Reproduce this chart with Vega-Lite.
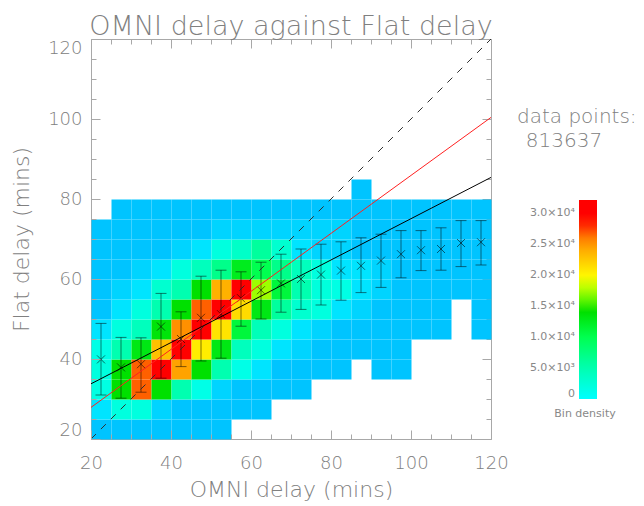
{
  "$schema": "https://vega.github.io/schema/vega-lite/v6.json",
  "width": 400,
  "height": 400,
  "autosize": "none",
  "padding": {"left": 91, "top": 39, "right": 153, "bottom": 67},
  "background": "white",
  "config": {
    "font": "DejaVu Sans",
    "view": {"stroke": "#a8a8a8", "strokeWidth": 1}
  },
  "title": {
    "text": "OMNI delay against Flat delay",
    "font": "DejaVu Sans",
    "fontSize": 27,
    "fontWeight": 200,
    "color": "#808080",
    "anchor": "middle",
    "baseline": "alphabetic",
    "offset": -25
  },
  "datasets": {
    "bins": [
      {"omni":20,"flat":20,"n":300},{"omni":25,"flat":20,"n":300},{"omni":30,"flat":20,"n":300},{"omni":35,"flat":20,"n":300},{"omni":40,"flat":20,"n":300},{"omni":45,"flat":20,"n":300},{"omni":50,"flat":20,"n":300},
      {"omni":20,"flat":25,"n":1200},{"omni":25,"flat":25,"n":2000},{"omni":30,"flat":25,"n":2000},{"omni":35,"flat":25,"n":800},{"omni":40,"flat":25,"n":300},{"omni":45,"flat":25,"n":300},{"omni":50,"flat":25,"n":300},{"omni":55,"flat":25,"n":300},{"omni":60,"flat":25,"n":300},
      {"omni":20,"flat":30,"n":1800},{"omni":25,"flat":30,"n":14000},{"omni":30,"flat":30,"n":26700},{"omni":35,"flat":30,"n":14000},{"omni":40,"flat":30,"n":5000},{"omni":45,"flat":30,"n":1500},{"omni":50,"flat":30,"n":800},{"omni":55,"flat":30,"n":300},{"omni":60,"flat":30,"n":300},{"omni":65,"flat":30,"n":300},{"omni":70,"flat":30,"n":300},
      {"omni":20,"flat":35,"n":2000},{"omni":25,"flat":35,"n":14000},{"omni":30,"flat":35,"n":26700},{"omni":35,"flat":35,"n":30500},{"omni":40,"flat":35,"n":24500},{"omni":45,"flat":35,"n":14000},{"omni":50,"flat":35,"n":5000},{"omni":55,"flat":35,"n":1500},{"omni":60,"flat":35,"n":1000},{"omni":65,"flat":35,"n":400},{"omni":70,"flat":35,"n":300},{"omni":75,"flat":35,"n":300},{"omni":80,"flat":35,"n":300},{"omni":90,"flat":35,"n":300},{"omni":95,"flat":35,"n":300},
      {"omni":20,"flat":40,"n":1600},{"omni":25,"flat":40,"n":5000},{"omni":30,"flat":40,"n":13000},{"omni":35,"flat":40,"n":23000},{"omni":40,"flat":40,"n":31800},{"omni":45,"flat":40,"n":20500},{"omni":50,"flat":40,"n":13000},{"omni":55,"flat":40,"n":4200},{"omni":60,"flat":40,"n":2000},{"omni":65,"flat":40,"n":1200},{"omni":70,"flat":40,"n":700},{"omni":75,"flat":40,"n":300},{"omni":80,"flat":40,"n":300},{"omni":85,"flat":40,"n":300},{"omni":90,"flat":40,"n":300},{"omni":95,"flat":40,"n":300},
      {"omni":20,"flat":45,"n":1000},{"omni":25,"flat":45,"n":2000},{"omni":30,"flat":45,"n":4200},{"omni":35,"flat":45,"n":13500},{"omni":40,"flat":45,"n":25500},{"omni":45,"flat":45,"n":32150},{"omni":50,"flat":45,"n":21000},{"omni":55,"flat":45,"n":11000},{"omni":60,"flat":45,"n":4500},{"omni":65,"flat":45,"n":2000},{"omni":70,"flat":45,"n":1200},{"omni":75,"flat":45,"n":800},{"omni":80,"flat":45,"n":300},{"omni":85,"flat":45,"n":300},{"omni":90,"flat":45,"n":300},{"omni":95,"flat":45,"n":300},{"omni":100,"flat":45,"n":300},{"omni":105,"flat":45,"n":300},{"omni":115,"flat":45,"n":300},
      {"omni":20,"flat":50,"n":400},{"omni":25,"flat":50,"n":1000},{"omni":30,"flat":50,"n":2000},{"omni":35,"flat":50,"n":5000},{"omni":40,"flat":50,"n":14000},{"omni":45,"flat":50,"n":26700},{"omni":50,"flat":50,"n":31000},{"omni":55,"flat":50,"n":21500},{"omni":60,"flat":50,"n":13000},{"omni":65,"flat":50,"n":6000},{"omni":70,"flat":50,"n":3000},{"omni":75,"flat":50,"n":2000},{"omni":80,"flat":50,"n":1200},{"omni":85,"flat":50,"n":800},{"omni":90,"flat":50,"n":300},{"omni":95,"flat":50,"n":300},{"omni":100,"flat":50,"n":300},{"omni":105,"flat":50,"n":300},{"omni":115,"flat":50,"n":300},
      {"omni":20,"flat":55,"n":300},{"omni":25,"flat":55,"n":600},{"omni":30,"flat":55,"n":1200},{"omni":35,"flat":55,"n":3000},{"omni":40,"flat":55,"n":5000},{"omni":45,"flat":55,"n":14000},{"omni":50,"flat":55,"n":23800},{"omni":55,"flat":55,"n":30500},{"omni":60,"flat":55,"n":17300},{"omni":65,"flat":55,"n":11000},{"omni":70,"flat":55,"n":5000},{"omni":75,"flat":55,"n":2200},{"omni":80,"flat":55,"n":1700},{"omni":85,"flat":55,"n":1200},{"omni":90,"flat":55,"n":900},{"omni":95,"flat":55,"n":300},{"omni":100,"flat":55,"n":300},{"omni":105,"flat":55,"n":300},{"omni":110,"flat":55,"n":300},{"omni":115,"flat":55,"n":300},
      {"omni":20,"flat":60,"n":300},{"omni":25,"flat":60,"n":300},{"omni":30,"flat":60,"n":600},{"omni":35,"flat":60,"n":1200},{"omni":40,"flat":60,"n":2000},{"omni":45,"flat":60,"n":4200},{"omni":50,"flat":60,"n":7000},{"omni":55,"flat":60,"n":12500},{"omni":60,"flat":60,"n":10000},{"omni":65,"flat":60,"n":7000},{"omni":70,"flat":60,"n":4200},{"omni":75,"flat":60,"n":2000},{"omni":80,"flat":60,"n":1300},{"omni":85,"flat":60,"n":1000},{"omni":90,"flat":60,"n":700},{"omni":95,"flat":60,"n":300},{"omni":100,"flat":60,"n":300},{"omni":105,"flat":60,"n":300},{"omni":110,"flat":60,"n":300},{"omni":115,"flat":60,"n":300},
      {"omni":20,"flat":65,"n":300},{"omni":25,"flat":65,"n":300},{"omni":30,"flat":65,"n":300},{"omni":35,"flat":65,"n":400},{"omni":40,"flat":65,"n":900},{"omni":45,"flat":65,"n":1200},{"omni":50,"flat":65,"n":2000},{"omni":55,"flat":65,"n":3500},{"omni":60,"flat":65,"n":6000},{"omni":65,"flat":65,"n":3000},{"omni":70,"flat":65,"n":1300},{"omni":75,"flat":65,"n":900},{"omni":80,"flat":65,"n":700},{"omni":85,"flat":65,"n":400},{"omni":90,"flat":65,"n":300},{"omni":95,"flat":65,"n":300},{"omni":100,"flat":65,"n":300},{"omni":105,"flat":65,"n":300},{"omni":110,"flat":65,"n":300},{"omni":115,"flat":65,"n":300},
      {"omni":20,"flat":70,"n":300},{"omni":25,"flat":70,"n":300},{"omni":30,"flat":70,"n":300},{"omni":35,"flat":70,"n":300},{"omni":40,"flat":70,"n":300},{"omni":45,"flat":70,"n":400},{"omni":50,"flat":70,"n":600},{"omni":55,"flat":70,"n":800},{"omni":60,"flat":70,"n":800},{"omni":65,"flat":70,"n":800},{"omni":70,"flat":70,"n":800},{"omni":75,"flat":70,"n":700},{"omni":80,"flat":70,"n":500},{"omni":85,"flat":70,"n":300},{"omni":90,"flat":70,"n":300},{"omni":95,"flat":70,"n":300},{"omni":100,"flat":70,"n":300},{"omni":105,"flat":70,"n":300},{"omni":110,"flat":70,"n":300},{"omni":115,"flat":70,"n":300},
      {"omni":25,"flat":75,"n":300},{"omni":30,"flat":75,"n":300},{"omni":35,"flat":75,"n":300},{"omni":40,"flat":75,"n":300},{"omni":45,"flat":75,"n":300},{"omni":50,"flat":75,"n":300},{"omni":55,"flat":75,"n":300},{"omni":60,"flat":75,"n":300},{"omni":65,"flat":75,"n":300},{"omni":70,"flat":75,"n":300},{"omni":75,"flat":75,"n":300},{"omni":80,"flat":75,"n":300},{"omni":85,"flat":75,"n":300},{"omni":90,"flat":75,"n":300},{"omni":95,"flat":75,"n":300},{"omni":100,"flat":75,"n":300},{"omni":105,"flat":75,"n":300},{"omni":110,"flat":75,"n":300},{"omni":115,"flat":75,"n":300},
      {"omni":85,"flat":80,"n":300}
    ],
    "profile": [
      {"omni":22.5,"mean":39.9,"lo":31.0,"hi":48.9},
      {"omni":27.5,"mean":37.9,"lo":30.2,"hi":45.4},
      {"omni":32.5,"mean":38.7,"lo":31.7,"hi":45.3},
      {"omni":37.5,"mean":48.1,"lo":35.2,"hi":56.4},
      {"omni":42.5,"mean":45.0,"lo":38.1,"hi":51.8},
      {"omni":47.5,"mean":50.3,"lo":39.5,"hi":60.7},
      {"omni":52.5,"mean":51.2,"lo":40.2,"hi":62.2},
      {"omni":57.5,"mean":55.2,"lo":48.2,"hi":61.8},
      {"omni":62.5,"mean":57.2,"lo":50.0,"hi":64.2},
      {"omni":67.5,"mean":58.9,"lo":51.7,"hi":66.2},
      {"omni":72.5,"mean":60.0,"lo":52.4,"hi":67.5},
      {"omni":77.5,"mean":61.1,"lo":53.5,"hi":68.7},
      {"omni":82.5,"mean":62.1,"lo":54.7,"hi":69.3},
      {"omni":87.5,"mean":63.3,"lo":56.6,"hi":70.3},
      {"omni":92.5,"mean":64.6,"lo":57.9,"hi":71.2},
      {"omni":97.5,"mean":66.2,"lo":60.3,"hi":72.1},
      {"omni":102.5,"mean":67.2,"lo":62.1,"hi":72.1},
      {"omni":107.5,"mean":67.5,"lo":62.2,"hi":72.8},
      {"omni":112.5,"mean":69.0,"lo":63.1,"hi":74.6},
      {"omni":117.5,"mean":69.2,"lo":63.5,"hi":74.6}
    ],
    "fit": [{"omni":20,"flat":33.8},{"omni":120,"flat":85.4}],
    "trend": [{"omni":20,"flat":27.9},{"omni":120,"flat":100.4}],
    "unity": [{"omni":20,"flat":20},{"omni":120,"flat":120}],
    "summary": [{"points":813637}]
  },
  "resolve": {"axis": {"x": "independent", "y": "independent"}},
  "layer": [
    {
      "data": {"name": "bins"},
      "mark": {"type": "rect"},
      "encoding": {
        "x": {
          "field": "omni", "type": "quantitative",
          "bin": {"binned": true, "step": 5},
          "scale": {"domain": [20, 120], "nice": false, "zero": false},
          "axis": {
            "orient": "bottom",
            "values": [20,25,30,35,40,45,50,55,60,65,70,75,80,85,90,95,100,105,110,115,120],
            "labelExpr": "datum.value % 20 === 0 ? datum.label : ''",
            "domain": false, "grid": false,
            "tickColor": "#a8a8a8",
            "tickSize": {"condition": {"test": "datum.value % 20 === 0", "value": -9}, "value": -5},
            "labelFontSize": 18, "labelColor": "#808080", "labelFont": "DejaVu Sans", "labelFontWeight": 200,
            "labelPadding": 24, "labelFlush": false, "labelOverlap": false,
            "title": "OMNI delay (mins)", "titleFontSize": 22, "titleFontWeight": 200, "titleColor": "#808080", "titlePadding": 3
          }
        },
        "y": {
          "field": "flat", "type": "quantitative",
          "bin": {"binned": true, "step": 5},
          "scale": {"domain": [20, 120], "nice": false, "zero": false},
          "axis": {
            "orient": "left",
            "values": [20,25,30,35,40,45,50,55,60,65,70,75,80,85,90,95,100,105,110,115,120],
            "labelExpr": "datum.value % 20 === 0 ? datum.label : ''",
            "domain": false, "grid": false,
            "tickColor": "#a8a8a8",
            "tickSize": {"condition": {"test": "datum.value % 20 === 0", "value": -9}, "value": -5},
            "labelFontSize": 18, "labelColor": "#808080", "labelFont": "DejaVu Sans", "labelFontWeight": 200,
            "labelPadding": 18, "labelFlush": true, "labelOverlap": false,
            "title": "Flat delay (mins)", "titleFontSize": 22, "titleFontWeight": 200, "titleColor": "#808080", "titlePadding": 14
          }
        },
        "color": {
          "condition": [
            {"test": "datum.n < 500", "value": "#00c4ff"},
            {"test": "datum.n < 1000", "value": "#00d4ff"},
            {"test": "datum.n < 1500", "value": "#00e4ff"}
          ],
          "field": "n", "type": "quantitative",
          "scale": {
            "domain": [0, 5000, 10000, 14000, 17000, 19500, 23000, 25500, 27500, 29000, 32150],
            "range": ["#00ffff", "#00ffb0", "#00ff50", "#00e000", "#90ff00", "#ffff00", "#ffc000", "#ff9000", "#ff4000", "#ff0000", "#ff0000"],
            "interpolate": "rgb"
          },
          "legend": {
            "orient": "none", "legendX": 463, "legendY": 161,
            "direction": "vertical",
            "gradientLength": 199, "gradientThickness": 18, "gradientStrokeWidth": 0,
            "values": [0, 5000, 10000, 15000, 20000, 25000, 30000],
            "labelExpr": "datum.value === 0 ? '0' : datum.value < 10000 ? format(datum.value / 1000, '.1f') + '×10³' : format(datum.value / 10000, '.1f') + '×10⁴'",
            "labelOverlap": false,
            "labelFontSize": 11, "labelColor": "#888888", "labelFont": "DejaVu Sans",
            "title": "Bin density", "titleOrient": "bottom", "titleAnchor": "start", "titleAlign": "center",
            "titleFontSize": 11, "titleFontWeight": "normal", "titleColor": "#888888", "titleFont": "DejaVu Sans", "titlePadding": 9,
            "encode": {
              "labels": {"update": {"align": {"value": "right"}, "x": {"value": -4}}},
              "title": {"update": {"dx": {"value": 6}}}
            }
          }
        }
      }
    },
    {
      "data": {"name": "profile"},
      "mark": {"type": "errorbar", "ticks": true, "size": 11, "thickness": 1, "color": "#000000", "opacity": 0.5},
      "encoding": {
        "x": {"field": "omni", "type": "quantitative", "axis": null},
        "y": {"field": "lo", "type": "quantitative", "axis": null},
        "y2": {"field": "hi"}
      }
    },
    {
      "data": {"name": "profile"},
      "mark": {"type": "point", "shape": "M-1,-1L1,1M-1,1L1,-1", "size": 64, "filled": false, "stroke": "#000000", "strokeWidth": 1, "opacity": 0.55},
      "encoding": {
        "x": {"field": "omni", "type": "quantitative", "axis": null},
        "y": {"field": "mean", "type": "quantitative", "axis": null}
      }
    },
    {
      "data": {"name": "unity"},
      "mark": {"type": "line", "stroke": "#303030", "strokeWidth": 1, "strokeDash": [7, 7]},
      "encoding": {
        "x": {
          "field": "omni", "type": "quantitative",
          "axis": {
            "orient": "top",
            "values": [20,25,30,35,40,45,50,55,60,65,70,75,80,85,90,95,100,105,110,115,120],
            "labels": false, "domain": false, "grid": false, "title": null,
            "tickColor": "#a8a8a8",
            "tickSize": {"condition": {"test": "datum.value % 20 === 0", "value": -9}, "value": -5}
          }
        },
        "y": {
          "field": "flat", "type": "quantitative",
          "axis": {
            "orient": "right",
            "values": [20,25,30,35,40,45,50,55,60,65,70,75,80,85,90,95,100,105,110,115,120],
            "labels": false, "domain": false, "grid": false, "title": null,
            "tickColor": "#a8a8a8",
            "tickSize": {"condition": {"test": "datum.value % 20 === 0", "value": -9}, "value": -5}
          }
        }
      }
    },
    {
      "data": {"name": "trend"},
      "mark": {"type": "line", "stroke": "#ff2020", "strokeWidth": 1},
      "encoding": {
        "x": {"field": "omni", "type": "quantitative", "axis": null},
        "y": {"field": "flat", "type": "quantitative", "axis": null}
      }
    },
    {
      "data": {"name": "fit"},
      "mark": {"type": "line", "stroke": "#000000", "strokeWidth": 1},
      "encoding": {
        "x": {"field": "omni", "type": "quantitative", "axis": null},
        "y": {"field": "flat", "type": "quantitative", "axis": null}
      }
    },
    {
      "data": {"name": "summary"},
      "mark": {"type": "text", "text": "data points:", "align": "left", "baseline": "alphabetic", "fontSize": 20, "fontWeight": 200, "color": "#808080"},
      "encoding": {
        "x": {"datum": 126.5, "type": "quantitative", "axis": null},
        "y": {"datum": 99, "type": "quantitative", "axis": null}
      }
    },
    {
      "data": {"name": "summary"},
      "mark": {"type": "text", "align": "left", "baseline": "alphabetic", "fontSize": 20, "fontWeight": 200, "color": "#808080"},
      "encoding": {
        "x": {"datum": 128.7, "type": "quantitative", "axis": null},
        "y": {"datum": 93, "type": "quantitative", "axis": null},
        "text": {"field": "points", "type": "quantitative", "format": "d"}
      }
    }
  ]
}
